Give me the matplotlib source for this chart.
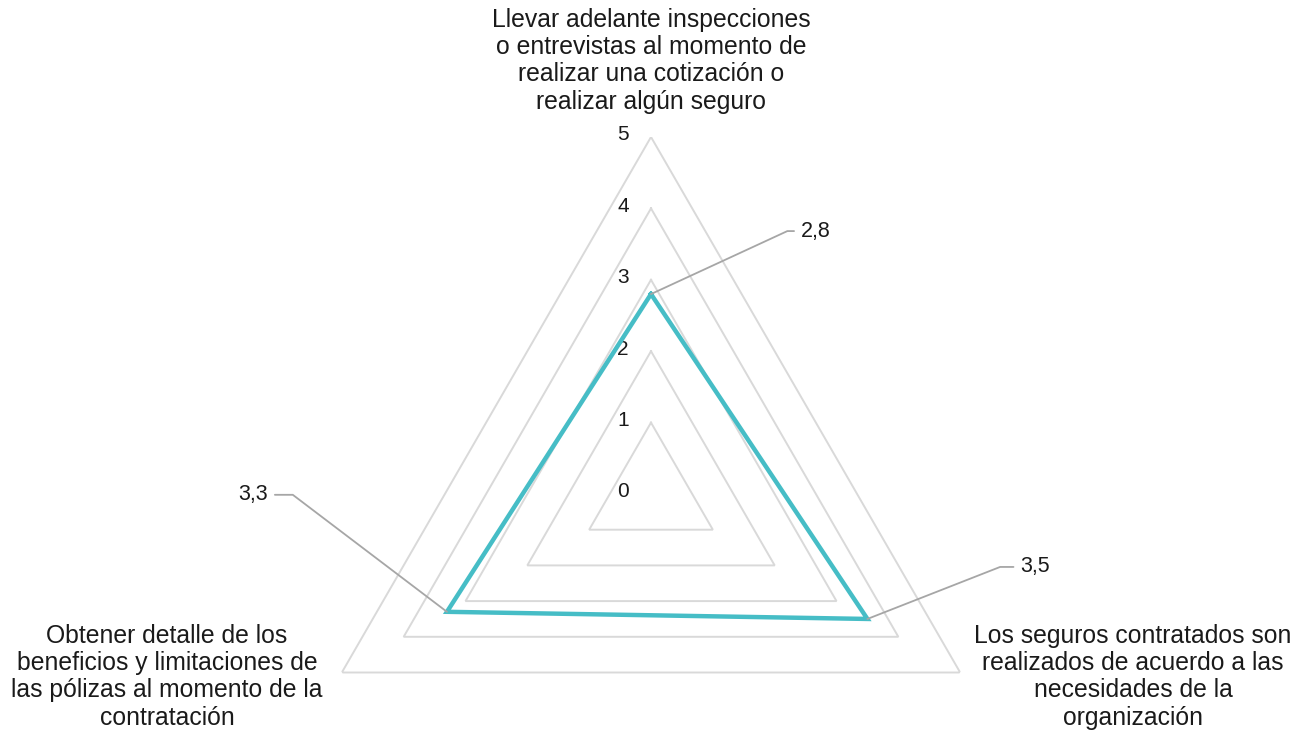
"""Radar chart: evaluación de prácticas de contratación de seguros (escala 0-5)."""
import numpy as np
import matplotlib
matplotlib.use("Agg")
import matplotlib.pyplot as plt

# --- data -------------------------------------------------------------
categories = [
    "Llevar adelante inspecciones\no entrevistas al momento de\nrealizar una cotización o\nrealizar algún seguro",
    "Los seguros contratados son\nrealizados de acuerdo a las\nnecesidades de la\norganización",
    "Obtener detalle de los\nbeneficios y limitaciones de\nlas pólizas al momento de la\ncontratación",
]
values = [2.8, 3.5, 3.3]
value_labels = ["2,8", "3,5", "3,3"]
ring_levels = [0, 1, 2, 3, 4, 5]
ring_labels = ["0", "1", "2", "3", "4", "5"]

# --- layout (pixels) --------------------------------------------------
W, H = 1308, 737
CX, CY, R = 651, 494, 357          # centre of the radar and radius of level 5
label_pos = [(651, 8, "center", "top"), (1133, 624, "center", "top"), (167, 624, "center", "top")]
# text anchor offsets from data point, and leader angle at the point
label_offsets = [(150, 63, "left"), (153, 52, "left"), (-179, 117, "right")]
leader_angles = [24.8, 21.4, -37.2]

TEAL = "#46BDC6"
RING = "#D9D9D9"
TEXT = "#1a1a1a"

plt.rcParams["font.family"] = ["Liberation Sans", "DejaVu Sans"]

fig = plt.figure(figsize=(W / 100, H / 100), dpi=100)
ax = fig.add_axes([(CX - R) / W, (H - CY - R) / H, 2 * R / W, 2 * R / H], projection="polar")
ax.set_theta_offset(np.pi / 2)
ax.set_theta_direction(-1)
ax.set_ylim(0, ring_levels[-1])
ax.grid(False)
ax.set_xticks([])
ax.set_yticks([])
ax.spines["polar"].set_visible(False)
ax.patch.set_alpha(0)

theta = np.linspace(0, 2 * np.pi, len(categories), endpoint=False)
theta_closed = np.append(theta, theta[0])

# gridline triangles
for lvl in ring_levels[1:]:
    ax.plot(theta_closed, [lvl] * len(theta_closed), color=RING, lw=1.4,
            solid_joinstyle="miter", zorder=1)

# level labels on the top axis
for lvl, txt in zip(ring_levels, ring_labels):
    ax.annotate(txt, xy=(theta[0], lvl), xytext=(-28, 2), textcoords="offset pixels",
                ha="center", va="center", fontsize=15, color=TEXT)

# series
vals_closed = values + values[:1]
ax.plot(theta_closed, vals_closed, color=TEAL, lw=3.2, solid_joinstyle="miter", zorder=3)

# data labels with leader lines
for t, v, lab, (dx, dy, ha), ang in zip(theta, values, value_labels, label_offsets, leader_angles):
    ax.annotate(lab, xy=(t, v), xytext=(dx, dy), textcoords="offset pixels",
                ha=ha, va="center", fontsize=15.5, color=TEXT,
                arrowprops=dict(arrowstyle="-", color="#A6A6A6", lw=1.3,
                                relpos=(0 if ha == "left" else 1, 0.5),
                                shrinkA=3, shrinkB=0,
                                connectionstyle=f"angle,angleA=0,angleB={ang},rad=0"),
                zorder=4)

# category labels
for txt, (x, y, ha, va) in zip(categories, label_pos):
    fig.text(x / W, 1 - y / H, txt, ha=ha, va=va, fontsize=17.8, color=TEXT,
             multialignment="center", linespacing=1.17)

fig.savefig("out.png", dpi=100, facecolor="white")
